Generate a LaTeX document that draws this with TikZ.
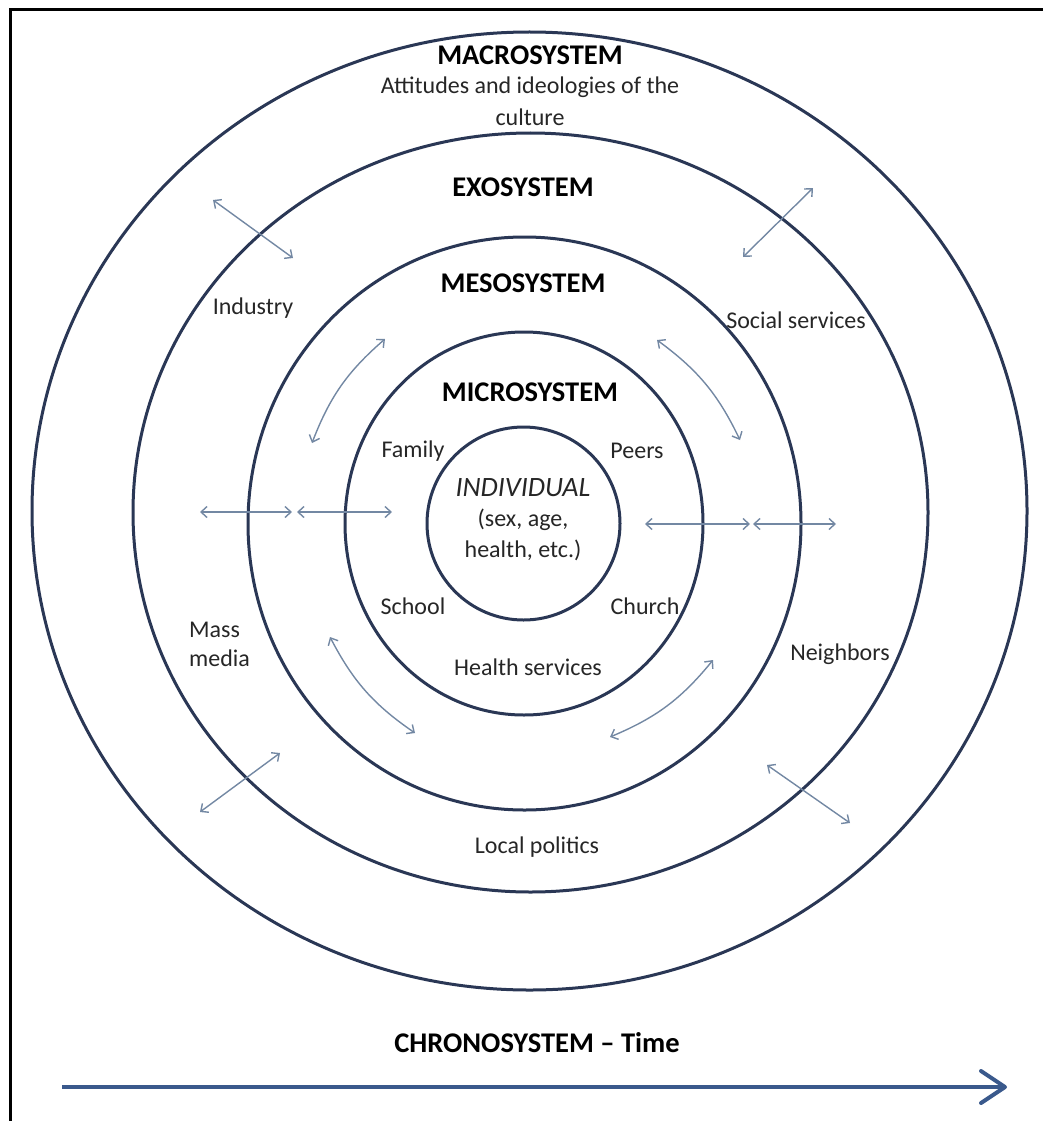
\documentclass[tikz,border=0pt]{standalone}
\usepackage{fontspec}
\setmainfont{Carlito}
\usetikzlibrary{arrows.meta}
\definecolor{ringcol}{RGB}{42,55,85}
\definecolor{arrcol}{RGB}{115,136,163}
\definecolor{chronocol}{RGB}{58,89,140}
\definecolor{txtcol}{RGB}{38,38,38}
\begin{document}
\begin{tikzpicture}[x=1pt,y=-1pt,
  ring/.style={draw=ringcol,line width=3pt},
  lab/.style={font=\fontsize{24}{29}\selectfont,text=txtcol,inner sep=0pt},
  headlab/.style={font=\bfseries\fontsize{28.5}{32}\selectfont,text=black,inner sep=0pt},
  link/.style={draw=arrcol,line width=1.4pt,{Straight Barb[length=6pt,width=11pt]}-{Straight Barb[length=6pt,width=11pt]}},
]
\useasboundingbox (0,0) rectangle (1043,1121);
\draw[line width=3pt] (10,1121) -- (10,10) -- (1043,10);
% rings
\draw[ring] (529.5,511) ellipse [x radius=497.5pt, y radius=479pt];
\draw[ring] (530.5,512.5) ellipse [x radius=397.5pt, y radius=379.5pt];
\draw[ring] (524.5,523.5) ellipse [x radius=276.5pt, y radius=286.5pt];
\draw[ring] (524,523.5) ellipse [x radius=179pt, y radius=191.5pt];
\draw[ring] (523.5,523.5) ellipse [x radius=96.5pt, y radius=96.5pt];
% labels
\node[headlab] (macro) at (530,55) {MACROSYSTEM};
\node[lab] (att) at (530,87) {Attitudes and ideologies of the};
\node[lab] (cult) at (530,117) {culture};
\node[headlab] (exo) at (523,187) {EXOSYSTEM};
\node[headlab] (meso) at (523,283) {MESOSYSTEM};
\node[headlab] (micro) at (530,392) {MICROSYSTEM};
\node[lab] (indus) at (253,308) {Industry};
\node[lab] (soc) at (796,320) {Social services};
\node[lab] (fam) at (413,451) {Family};
\node[lab] (peer) at (637,451) {Peers};
\node[lab,font=\itshape\fontsize{28}{32}\selectfont] (indiv) at (523,488) {INDIVIDUAL};
\node[lab] (sex) at (523,520) {(sex, age,};
\node[lab] (hlth) at (523,550) {health, etc.)};
\node[lab] (school) at (413,606) {School};
\node[lab] (church) at (645,606) {Church};
\node[lab,anchor=west] (mass) at (189,630) {Mass};
\node[lab,anchor=west] (media) at (189,658) {media};
\node[lab] (hserv) at (528,667) {Health services};
\node[lab] (neigh) at (840,654) {Neighbors};
\node[lab] (local) at (537,847) {Local politics};
\node[headlab] (chrono) at (537,1043) {CHRONOSYSTEM -- Time};
% straight links
\coordinate (a1) at (213,200); \coordinate (a2) at (293,258);
\coordinate (b1) at (813,188); \coordinate (b2) at (743,257);
\coordinate (c1) at (200,812); \coordinate (c2) at (280,753);
\coordinate (d1) at (767,765); \coordinate (d2) at (850,823);
\draw[link] (a1) -- (a2);
\draw[link] (b1) -- (b2);
\draw[link] (c1) -- (c2);
\draw[link] (d1) -- (d2);
\coordinate (h1) at (200,512); \coordinate (h2) at (292,512);
\coordinate (h3) at (297,512); \coordinate (h4) at (392,512);
\coordinate (h5) at (645,524); \coordinate (h6) at (750,524);
\coordinate (h7) at (753,524); \coordinate (h8) at (836,524);
\draw[link] (h1) -- (h2);
\draw[link] (h3) -- (h4);
\draw[link] (h5) -- (h6);
\draw[link] (h7) -- (h8);
% curved links
\coordinate (e1) at (385,339); \coordinate (e2) at (312,443);
\coordinate (f1) at (657,340); \coordinate (f2) at (740,440);
\coordinate (g1) at (330,637); \coordinate (g2) at (415,733);
\coordinate (k1) at (713,660); \coordinate (k2) at (610,737);
\draw[link] (e1) to[bend right=14] (e2);
\draw[link] (f1) to[bend left=14] (f2);
\draw[link] (g1) to[bend right=14] (g2);
\draw[link] (k1) to[bend left=14] (k2);
% chronosystem arrow
\coordinate (t0) at (62,1087); \coordinate (t1) at (1007,1087);
\draw[chronocol,line width=4pt,-{Straight Barb[round,length=24pt,width=32pt]}] (t0) -- (t1);
\end{tikzpicture}
\end{document}
